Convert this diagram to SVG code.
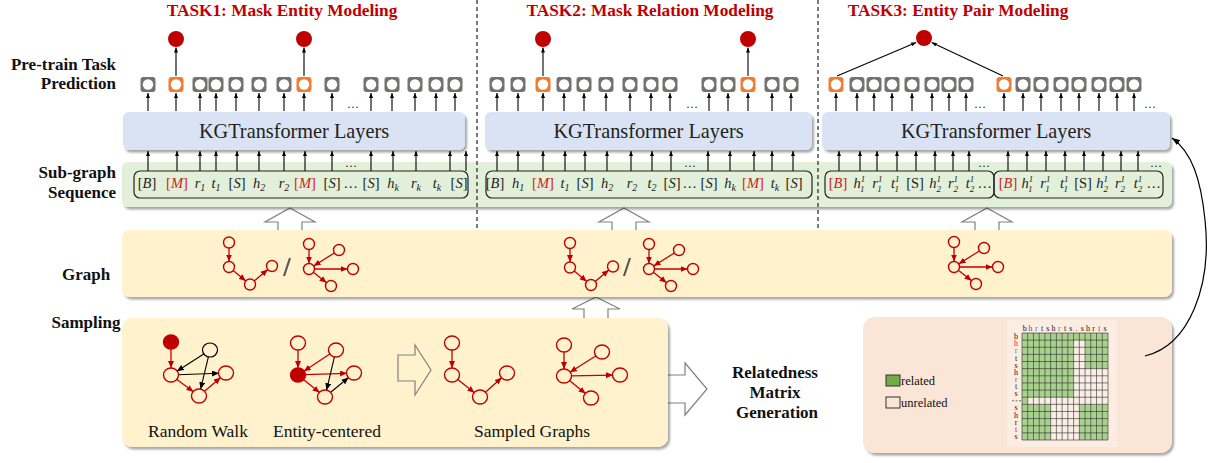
<svg xmlns="http://www.w3.org/2000/svg" width="1214" height="463" viewBox="0 0 1214 463">
<defs>
<style>
.lbl{font-family:"Liberation Serif",serif;font-weight:bold;font-size:17px;fill:#111}
.ttl{font-family:"Liberation Serif",serif;font-weight:bold;font-size:17.3px;fill:#c00000;text-anchor:middle}
.kg{font-family:"Liberation Serif",serif;font-size:20.3px;fill:#222;text-anchor:middle}
.tk{font-family:"Liberation Serif",serif;font-style:italic;font-size:14.5px;fill:#222;text-anchor:middle}
.n{font-style:normal}
.m{fill:#d01c1c}
.sb{font-size:10px}
.sp{font-size:9px}
.cap{font-family:"Liberation Serif",serif;font-size:17.5px;fill:#111;text-anchor:middle}
.dots{font-family:"Liberation Serif",serif;font-size:12px;fill:#222;text-anchor:middle}
.a{stroke:#000;stroke-width:1.1;fill:none;marker-end:url(#ah)}
.ra{stroke:#c00000;stroke-width:1.3;fill:none;marker-end:url(#ahr)}
.ba{stroke:#000;stroke-width:1.1;fill:none;marker-end:url(#ahb)}
.nr{fill:none;stroke:#c00000;stroke-width:1.4}
.nk{fill:none;stroke:#000;stroke-width:1.2}
.nf{fill:#c00000;stroke:#c00000;stroke-width:1.4}
.blk{fill:#fff;stroke:#808080;stroke-width:1.2}
.dash{stroke:#333;stroke-width:1.3;stroke-dasharray:4 3}
.ml{font-family:"Liberation Serif",serif;font-size:8px;fill:#111;text-anchor:middle}
.lg{font-family:"Liberation Serif",serif;font-size:12.5px;fill:#111}
</style>
<filter id="sh" x="-5%" y="-10%" width="110%" height="140%">
<feDropShadow dx="2" dy="2.5" stdDeviation="1.3" flood-color="#000" flood-opacity="0.35"/>
</filter>
<marker id="ah" viewBox="0 0 5 4" refX="5" refY="2" markerWidth="5" markerHeight="4" markerUnits="userSpaceOnUse" orient="auto"><path d="M0,0 L5,2 L0,4z" fill="#000"/></marker>
<marker id="ahb" viewBox="0 0 7 6" refX="7" refY="3" markerWidth="7" markerHeight="6" markerUnits="userSpaceOnUse" orient="auto"><path d="M0,0 L7,3 L0,6z" fill="#000"/></marker>
<marker id="ahr" viewBox="0 0 7 6" refX="7" refY="3" markerWidth="7" markerHeight="6" markerUnits="userSpaceOnUse" orient="auto"><path d="M0,0 L7,3 L0,6z" fill="#c00000"/></marker>
<marker id="ahc" viewBox="0 0 8 6" refX="8" refY="3" markerWidth="8" markerHeight="6" markerUnits="userSpaceOnUse" orient="auto"><path d="M0,0 L8,3 L0,6z" fill="#000"/></marker>
<g id="ng"><rect x="-7.5" y="-7.5" width="15" height="15" rx="3" fill="#767171"/><circle r="5.2" fill="#fff"/></g>
<g id="no"><rect x="-7.5" y="-7.5" width="15" height="15" rx="3" fill="#ed7d31"/><circle r="5.2" fill="#fff"/></g>
<g id="gpath">
<circle cx="0" cy="0" r="5.5" class="nr"/><circle cx="0" cy="24.5" r="5.5" class="nr"/><circle cx="21" cy="42" r="5.5" class="nr"/><circle cx="43" cy="23.5" r="5.5" class="nr"/>
<path class="ra" d="M0 5.5V19"/><path class="ra" d="M4.2 28L16.8 38.5"/><path class="ra" d="M25.2 38.5L38.8 27"/>
</g>
<g id="gstar">
<circle cx="0" cy="-25" r="5.5" class="nr"/><circle cx="30" cy="-19" r="5.5" class="nr"/><circle cx="0" cy="0" r="5.5" class="nr"/><circle cx="44" cy="0" r="5.5" class="nr"/><circle cx="22" cy="17" r="5.5" class="nr"/>
<path class="ra" d="M0 -19.5V-5.5"/><path class="ra" d="M25.35 -16.06L4.65 -2.94"/><path class="ra" d="M5.5 0H38.5"/><path class="ra" d="M4.35 3.36L17.65 13.64"/>
</g>
</defs>

<g id="block-arrows">
<path class="blk" d="M290 208L315 222H302V231H278V222H265Z"/>
<path class="blk" d="M624 208L649 222H636V231H612V222H599Z"/>
<path class="blk" d="M987 208L1012 222H999V231H975V222H962Z"/>
<path class="blk" d="M596 297L620 309H608V319H584V309H572Z"/>
<path class="blk" d="M660 375H685V363L707 389L685 415V403H660Z"/>
</g>

<g id="transformer-1"><rect x="123" y="112" width="342" height="38" rx="6" fill="#dae3f3" filter="url(#sh)"/><text class="kg" x="294" y="138">KGTransformer Layers</text></g>
<g id="transformer-2"><rect x="485" y="112" width="327" height="38" rx="6" fill="#dae3f3" filter="url(#sh)"/><text class="kg" x="648.5" y="138">KGTransformer Layers</text></g>
<g id="transformer-3"><rect x="822" y="112" width="348" height="38" rx="6" fill="#dae3f3" filter="url(#sh)"/><text class="kg" x="996" y="138">KGTransformer Layers</text></g>
<rect id="sequence-band" x="122" y="162" width="1050" height="45" rx="6" fill="#e2efd9" filter="url(#sh)"/>
<rect id="sampling-band" x="122" y="230" width="1050" height="67" rx="8" fill="#fff2cc" filter="url(#sh)"/>
<rect id="sampling-box" x="122" y="318" width="546" height="129" rx="10" fill="#fff2cc" filter="url(#sh)"/>
<rect id="matrix-box" x="863" y="317" width="309" height="136" rx="12" fill="#fbe5d6" filter="url(#sh)"/>

<g id="dividers">
<line class="dash" x1="477" y1="0" x2="477" y2="229"/>
<line class="dash" x1="818" y1="0" x2="818" y2="229"/>
</g>

<g id="labels">
<text class="lbl" x="116" y="70" text-anchor="end">Pre-train Task</text>
<text class="lbl" x="116" y="89" text-anchor="end">Prediction</text>
<text class="lbl" x="116" y="178" text-anchor="end">Sub-graph</text>
<text class="lbl" x="116" y="198" text-anchor="end">Sequence</text>
<text class="lbl" x="86" y="280" text-anchor="middle">Graph</text>
<text class="lbl" x="86" y="328" text-anchor="middle">Sampling</text>
<text class="ttl" x="282" y="16">TASK1: Mask Entity Modeling</text>
<text class="ttl" x="650" y="16">TASK2: Mask Relation Modeling</text>
<text class="ttl" x="958" y="16">TASK3: Entity Pair Modeling</text>
</g>

<g id="pred-task1">
<use href="#ng" x="148" y="84.5"/><use href="#no" x="176" y="84.5"/><use href="#ng" x="200" y="84.5"/><use href="#ng" x="216" y="84.5"/><use href="#ng" x="236" y="84.5"/><use href="#ng" x="259" y="84.5"/><use href="#ng" x="284" y="84.5"/><use href="#no" x="304" y="84.5"/><use href="#ng" x="332" y="84.5"/><use href="#ng" x="371" y="84.5"/><use href="#ng" x="392" y="84.5"/><use href="#ng" x="415" y="84.5"/><use href="#ng" x="436" y="84.5"/><use href="#ng" x="455" y="84.5"/>
<circle cx="176" cy="39" r="8" fill="#c00000"/><circle cx="304" cy="39" r="8" fill="#c00000"/>
</g>
<g id="pred-task2">
<use href="#ng" x="497" y="84.5"/><use href="#ng" x="518" y="84.5"/><use href="#no" x="543" y="84.5"/><use href="#ng" x="564" y="84.5"/><use href="#ng" x="584" y="84.5"/><use href="#ng" x="606" y="84.5"/><use href="#ng" x="630" y="84.5"/><use href="#ng" x="651" y="84.5"/><use href="#ng" x="670" y="84.5"/><use href="#ng" x="709" y="84.5"/><use href="#ng" x="728" y="84.5"/><use href="#no" x="748" y="84.5"/><use href="#ng" x="772" y="84.5"/><use href="#ng" x="791" y="84.5"/>
<circle cx="543" cy="39" r="8" fill="#c00000"/><circle cx="748" cy="39" r="8" fill="#c00000"/>
</g>
<g id="pred-task3">
<use href="#no" x="836" y="84.5"/><use href="#ng" x="857" y="84.5"/><use href="#ng" x="874" y="84.5"/><use href="#ng" x="892" y="84.5"/><use href="#ng" x="912" y="84.5"/><use href="#ng" x="932" y="84.5"/><use href="#ng" x="949" y="84.5"/><use href="#ng" x="966" y="84.5"/>
<use href="#no" x="1004" y="84.5"/><use href="#ng" x="1023" y="84.5"/><use href="#ng" x="1041" y="84.5"/><use href="#ng" x="1061" y="84.5"/><use href="#ng" x="1079" y="84.5"/><use href="#ng" x="1099" y="84.5"/><use href="#ng" x="1117" y="84.5"/><use href="#ng" x="1134" y="84.5"/>
<circle cx="924" cy="38" r="8" fill="#c00000"/>
</g>

<g id="seq-task1">
<rect x="134" y="171" width="334" height="27" rx="6" fill="none" stroke="#222" stroke-width="1.2"/>
<text class="tk" x="147" y="188"><tspan class="n">[</tspan>B<tspan class="n">]</tspan></text>
<text class="tk m" x="177" y="188"><tspan class="n">[</tspan>M<tspan class="n">]</tspan></text>
<text class="tk" x="200" y="188">r<tspan class="sb" dy="3">1</tspan></text>
<text class="tk" x="216" y="188">t<tspan class="sb" dy="3">1</tspan></text>
<text class="tk" x="237" y="188"><tspan class="n">[</tspan>S<tspan class="n">]</tspan></text>
<text class="tk" x="259" y="188">h<tspan class="sb" dy="3">2</tspan></text>
<text class="tk" x="284" y="188">r<tspan class="sb" dy="3">2</tspan></text>
<text class="tk m" x="305" y="188"><tspan class="n">[</tspan>M<tspan class="n">]</tspan></text>
<text class="tk" x="332" y="188"><tspan class="n">[</tspan>S<tspan class="n">]</tspan></text>
<text class="tk" x="351" y="188">…</text>
<text class="tk" x="371" y="188"><tspan class="n">[</tspan>S<tspan class="n">]</tspan></text>
<text class="tk" x="393" y="188">h<tspan class="sb" dy="3">k</tspan></text>
<text class="tk" x="416" y="188">r<tspan class="sb" dy="3">k</tspan></text>
<text class="tk" x="437" y="188">t<tspan class="sb" dy="3">k</tspan></text>
<text class="tk" x="459" y="188"><tspan class="n">[</tspan>S<tspan class="n">]</tspan></text>
</g>
<g id="seq-task2">
<rect x="486" y="171" width="326" height="27" rx="6" fill="none" stroke="#222" stroke-width="1.2"/>
<text class="tk" x="495" y="188"><tspan class="n">[</tspan>B<tspan class="n">]</tspan></text>
<text class="tk" x="518" y="188">h<tspan class="sb" dy="3">1</tspan></text>
<text class="tk m" x="543" y="188"><tspan class="n">[</tspan>M<tspan class="n">]</tspan></text>
<text class="tk" x="565" y="188">t<tspan class="sb" dy="3">1</tspan></text>
<text class="tk" x="585" y="188"><tspan class="n">[</tspan>S<tspan class="n">]</tspan></text>
<text class="tk" x="607" y="188">h<tspan class="sb" dy="3">2</tspan></text>
<text class="tk" x="632" y="188">r<tspan class="sb" dy="3">2</tspan></text>
<text class="tk" x="652" y="188">t<tspan class="sb" dy="3">2</tspan></text>
<text class="tk" x="672" y="188"><tspan class="n">[</tspan>S<tspan class="n">]</tspan></text>
<text class="tk" x="690" y="188">…</text>
<text class="tk" x="709" y="188"><tspan class="n">[</tspan>S<tspan class="n">]</tspan></text>
<text class="tk" x="730" y="188">h<tspan class="sb" dy="3">k</tspan></text>
<text class="tk m" x="753" y="188"><tspan class="n">[</tspan>M<tspan class="n">]</tspan></text>
<text class="tk" x="775" y="188">t<tspan class="sb" dy="3">k</tspan></text>
<text class="tk" x="794" y="188"><tspan class="n">[</tspan>S<tspan class="n">]</tspan></text>
</g>
<g id="seq-task3">
<rect x="825" y="171" width="169" height="27" rx="6" fill="none" stroke="#222" stroke-width="1.2"/>
<rect x="994" y="171" width="169" height="27" rx="6" fill="none" stroke="#222" stroke-width="1.2"/>
<text class="tk m" x="838" y="188"><tspan class="n">[</tspan>B<tspan class="n">]</tspan></text>
<text class="tk" x="859" y="188">h<tspan class="sp" dy="-6">1</tspan><tspan class="sp" dx="-4.5" dy="10">1</tspan></text>
<text class="tk" x="877" y="188">r<tspan class="sp" dy="-6">1</tspan><tspan class="sp" dx="-4.5" dy="10">1</tspan></text>
<text class="tk" x="895" y="188">t<tspan class="sp" dy="-6">1</tspan><tspan class="sp" dx="-4.5" dy="10">1</tspan></text>
<text class="tk n" x="915" y="188">[S]</text>
<text class="tk" x="935" y="188">h<tspan class="sp" dy="-6">1</tspan><tspan class="sp" dx="-4.5" dy="10">2</tspan></text>
<text class="tk" x="953" y="188">r<tspan class="sp" dy="-6">1</tspan><tspan class="sp" dx="-4.5" dy="10">2</tspan></text>
<text class="tk" x="970" y="188">t<tspan class="sp" dy="-6">1</tspan><tspan class="sp" dx="-4.5" dy="10">2</tspan></text>
<text class="tk" x="985" y="188">…</text>
<text class="tk m" x="1008" y="188"><tspan class="n">[</tspan>B<tspan class="n">]</tspan></text>
<text class="tk" x="1027" y="188">h<tspan class="sp" dy="-6">1</tspan><tspan class="sp" dx="-4.5" dy="10">1</tspan></text>
<text class="tk" x="1045" y="188">r<tspan class="sp" dy="-6">1</tspan><tspan class="sp" dx="-4.5" dy="10">1</tspan></text>
<text class="tk" x="1064" y="188">t<tspan class="sp" dy="-6">1</tspan><tspan class="sp" dx="-4.5" dy="10">1</tspan></text>
<text class="tk n" x="1083" y="188">[S]</text>
<text class="tk" x="1102" y="188">h<tspan class="sp" dy="-6">1</tspan><tspan class="sp" dx="-4.5" dy="10">2</tspan></text>
<text class="tk" x="1120" y="188">r<tspan class="sp" dy="-6">1</tspan><tspan class="sp" dx="-4.5" dy="10">2</tspan></text>
<text class="tk" x="1138" y="188">t<tspan class="sp" dy="-6">1</tspan><tspan class="sp" dx="-4.5" dy="10">2</tspan></text>
<text class="tk" x="1154" y="188">…</text>
</g>

<g id="band-graphs-1"><use href="#gpath" x="229" y="242.5"/><line x1="284" y1="276" x2="290" y2="258" stroke="#595959" stroke-width="2.2"/><use href="#gstar" x="309" y="269"/></g>
<g id="band-graphs-2"><use href="#gpath" x="570" y="243"/><line x1="624" y1="276" x2="630" y2="258" stroke="#595959" stroke-width="2.2"/><use href="#gstar" x="649" y="269"/></g>
<g id="band-graphs-3"><use href="#gstar" x="954" y="267"/></g>

<g id="random-walk">
<path class="ra" d="M171 349V368"/><path class="ba" d="M204.1 353.8L176.9 371.2"/><path class="ba" d="M178 374.7L219 373.3"/><path class="ba" d="M208.4 356.8L200.6 389.2"/><path class="ra" d="M176.6 379.2L193.4 391.8"/><path class="ra" d="M204.3 391.5L220.7 377.5"/>
<ellipse cx="171" cy="342" rx="7.5" ry="7" class="nf"/><ellipse cx="210" cy="350" rx="7.5" ry="7" class="nk"/><ellipse cx="171" cy="375" rx="7.5" ry="7" class="nr"/><ellipse cx="226" cy="373" rx="7.5" ry="7" class="nr"/><ellipse cx="199" cy="396" rx="7.5" ry="7" class="nr"/>
<text class="cap" x="198" y="437">Random Walk</text>
</g>
<g id="entity-centered">
<path class="ra" d="M298 350V368"/><path class="ra" d="M330.2 353.8L303.8 371.2"/><path class="ra" d="M305 374.7L347 373.3"/><path class="ra" d="M303.4 379.4L319.6 392.6"/><path class="ba" d="M334.4 356.8L326.6 390.2"/><path class="ba" d="M330.4 392.5L348.6 377.5"/>
<ellipse cx="298" cy="343" rx="7.5" ry="7" class="nr"/><ellipse cx="336" cy="350" rx="7.5" ry="7" class="nr"/><ellipse cx="298" cy="375" rx="7.5" ry="7" class="nf"/><ellipse cx="354" cy="373" rx="7.5" ry="7" class="nr"/><ellipse cx="325" cy="397" rx="7.5" ry="7" class="nr"/>
<text class="cap" x="327" y="437">Entity-centered</text>
</g>
<path id="sample-arrow" d="M398 355H415V345L431 370L415 395V381H398Z" fill="none" stroke="#808080" stroke-width="1.2"/>
<g id="sampled-graphs">
<path class="ra" d="M452 350V368"/><path class="ra" d="M457.5 379.3L474.5 392.7"/><path class="ra" d="M485.2 392.4L501.8 377.6"/>
<ellipse cx="452" cy="343" rx="7.5" ry="7" class="nr"/><ellipse cx="452" cy="375" rx="7.5" ry="7" class="nr"/><ellipse cx="480" cy="397" rx="7.5" ry="7" class="nr"/><ellipse cx="507" cy="373" rx="7.5" ry="7" class="nr"/>
<path class="ra" d="M564 352V369"/><path class="ra" d="M596.1 355.7L569.9 372.3"/><path class="ra" d="M571 375.9L613 375.1"/><path class="ra" d="M569.4 380.4L585.6 393.6"/>
<ellipse cx="564" cy="345" rx="7.5" ry="7" class="nr"/><ellipse cx="602" cy="352" rx="7.5" ry="7" class="nr"/><ellipse cx="564" cy="376" rx="7.5" ry="7" class="nr"/><ellipse cx="620" cy="375" rx="7.5" ry="7" class="nr"/><ellipse cx="591" cy="398" rx="7.5" ry="7" class="nr"/>
<text class="cap" x="532" y="437">Sampled Graphs</text>
</g>

<g id="relatedness-label">
<text class="lbl" x="775" y="378" text-anchor="middle">Relatedness</text>
<text class="lbl" x="775" y="398" text-anchor="middle">Matrix</text>
<text class="lbl" x="777" y="418" text-anchor="middle">Generation</text>
</g>

<g id="matrix">
<rect x="1007" y="320" width="110" height="127" fill="#fcede3"/>
<rect x="1022" y="333" width="86" height="107" fill="#a9d18e"/>
<g fill="#fbeee6">
<rect x="1073.6" y="340.13" width="11.47" height="28.54"/>
<rect x="1073.6" y="368.67" width="34.4" height="28.53"/>
<rect x="1027.73" y="397.2" width="80.27" height="7.13"/>
<rect x="1050.67" y="404.33" width="28.66" height="35.67"/>
</g>
<path stroke="#2b2b2b" stroke-width="0.6" fill="none" d="M1022 333V440M1027.73 333V440M1033.47 333V440M1039.2 333V440M1044.93 333V440M1050.67 333V440M1056.4 333V440M1062.13 333V440M1067.87 333V440M1073.6 333V440M1079.33 333V440M1085.07 333V440M1090.8 333V440M1096.53 333V440M1102.27 333V440M1108 333V440M1022 333H1108M1022 340.13H1108M1022 347.27H1108M1022 354.4H1108M1022 361.53H1108M1022 368.67H1108M1022 375.8H1108M1022 382.93H1108M1022 390.07H1108M1022 397.2H1108M1022 404.33H1108M1022 411.47H1108M1022 418.6H1108M1022 425.73H1108M1022 432.87H1108M1022 440H1108"/>
<g class="ml">
<text x="1024.87" y="331">b</text><text x="1030.6" y="331" fill="#d01c1c">h</text><text x="1036.33" y="331" fill="#4472c4">r</text><text x="1042.07" y="331">t</text><text x="1047.8" y="331">s</text><text x="1053.53" y="331">h</text><text x="1059.27" y="331" fill="#4472c4">r</text><text x="1065" y="331">t</text><text x="1070.73" y="331">s</text><text x="1076.47" y="331">.</text><text x="1082.2" y="331">s</text><text x="1087.93" y="331">h</text><text x="1093.67" y="331">r</text><text x="1099.4" y="331" fill="#d01c1c">t</text><text x="1105.13" y="331">s</text>
<text x="1016" y="339.1">b</text><text x="1016" y="346.2" fill="#d01c1c">h</text><text x="1016" y="353.3" fill="#4472c4">r</text><text x="1016" y="360.5">t</text><text x="1016" y="367.6">s</text><text x="1016" y="374.7">h</text><text x="1016" y="381.9" fill="#4472c4">r</text><text x="1016" y="389">t</text><text x="1016" y="396.1">s</text><text x="1016" y="410.4">s</text><text x="1016" y="417.5">h</text><text x="1016" y="424.7">r</text><text x="1016" y="431.8" fill="#d01c1c">t</text><text x="1016" y="438.9">s</text>
</g>
<line x1="1012" y1="400.8" x2="1021" y2="400.8" stroke="#333" stroke-width="0.7" stroke-dasharray="2 1.5"/>
</g>
<g id="legend">
<rect x="886" y="375" width="14" height="11" fill="#70ad47" stroke="#333" stroke-width="1"/>
<text class="lg" x="901" y="385">related</text>
<rect x="886" y="397" width="14" height="11" fill="none" stroke="#333" stroke-width="1"/>
<text class="lg" x="901" y="407">unrelated</text>
</g>

<g id="connectors">
<path class="a" d="M148 111V93"/><path class="a" d="M176 111V93"/><path class="a" d="M200 111V93"/><path class="a" d="M216 111V93"/><path class="a" d="M236 111V93"/><path class="a" d="M259 111V93"/><path class="a" d="M284 111V93"/><path class="a" d="M304 111V93"/><path class="a" d="M332 111V93"/><path class="a" d="M371 111V93"/><path class="a" d="M392 111V93"/><path class="a" d="M415 111V93"/><path class="a" d="M436 111V93"/><path class="a" d="M455 111V93"/>
<path class="a" d="M176 76V47.5"/><path class="a" d="M304 76V47.5"/>
<path class="a" d="M148 171V151"/><path class="a" d="M177 171V151"/><path class="a" d="M200 171V151"/><path class="a" d="M216 171V151"/><path class="a" d="M237 171V151"/><path class="a" d="M259 171V151"/><path class="a" d="M284 171V151"/><path class="a" d="M305 171V151"/><path class="a" d="M332 171V151"/><path class="a" d="M371 171V151"/><path class="a" d="M393 171V151"/><path class="a" d="M416 171V151"/><path class="a" d="M450 171V151"/><path class="a" d="M466 171V151"/>
<path class="a" d="M497 111V93"/><path class="a" d="M518 111V93"/><path class="a" d="M543 111V93"/><path class="a" d="M564 111V93"/><path class="a" d="M584 111V93"/><path class="a" d="M606 111V93"/><path class="a" d="M630 111V93"/><path class="a" d="M651 111V93"/><path class="a" d="M670 111V93"/><path class="a" d="M709 111V93"/><path class="a" d="M728 111V93"/><path class="a" d="M748 111V93"/><path class="a" d="M772 111V93"/><path class="a" d="M791 111V93"/>
<path class="a" d="M543 76V47.5"/><path class="a" d="M748 76V47.5"/>
<path class="a" d="M497 171V151"/><path class="a" d="M518 171V151"/><path class="a" d="M543 171V151"/><path class="a" d="M565 171V151"/><path class="a" d="M585 171V151"/><path class="a" d="M607 171V151"/><path class="a" d="M631 171V151"/><path class="a" d="M652 171V151"/><path class="a" d="M671 171V151"/><path class="a" d="M708 171V151"/><path class="a" d="M730 171V151"/><path class="a" d="M754 171V151"/><path class="a" d="M772 171V151"/><path class="a" d="M793 171V151"/>
<path class="a" d="M836 111V93"/><path class="a" d="M857 111V93"/><path class="a" d="M874 111V93"/><path class="a" d="M892 111V93"/><path class="a" d="M912 111V93"/><path class="a" d="M932 111V93"/><path class="a" d="M949 111V93"/><path class="a" d="M966 111V93"/><path class="a" d="M1004 111V93"/><path class="a" d="M1023 111V93"/><path class="a" d="M1041 111V93"/><path class="a" d="M1061 111V93"/><path class="a" d="M1079 111V93"/><path class="a" d="M1099 111V93"/><path class="a" d="M1117 111V93"/><path class="a" d="M1134 111V93"/>
<path class="a" d="M837 76L916.2 42.4"/><path class="a" d="M1003 76L931.7 42.6"/>
<path class="a" d="M839 171V151"/><path class="a" d="M860 171V151"/><path class="a" d="M877 171V151"/><path class="a" d="M897 171V151"/><path class="a" d="M916 171V151"/><path class="a" d="M935 171V151"/><path class="a" d="M953 171V151"/><path class="a" d="M969 171V151"/><path class="a" d="M1008 171V151"/><path class="a" d="M1027 171V151"/><path class="a" d="M1046 171V151"/><path class="a" d="M1065 171V151"/><path class="a" d="M1084 171V151"/><path class="a" d="M1103 171V151"/><path class="a" d="M1121 171V151"/><path class="a" d="M1138 171V151"/>
<path d="M1145 356C1190 345 1212 285 1205 220C1201 180 1192 152 1172 138" fill="none" stroke="#000" stroke-width="1.2" marker-end="url(#ahc)"/>
</g>
<g id="ellipses">
<text class="dots" x="353" y="108">…</text><text class="dots" x="351" y="167">…</text>
<text class="dots" x="692" y="108">…</text><text class="dots" x="690" y="167">…</text>
<text class="dots" x="980" y="108">…</text><text class="dots" x="984" y="167">…</text>
<text class="dots" x="1150" y="108">…</text><text class="dots" x="1156" y="167">…</text>
</g>
</svg>
